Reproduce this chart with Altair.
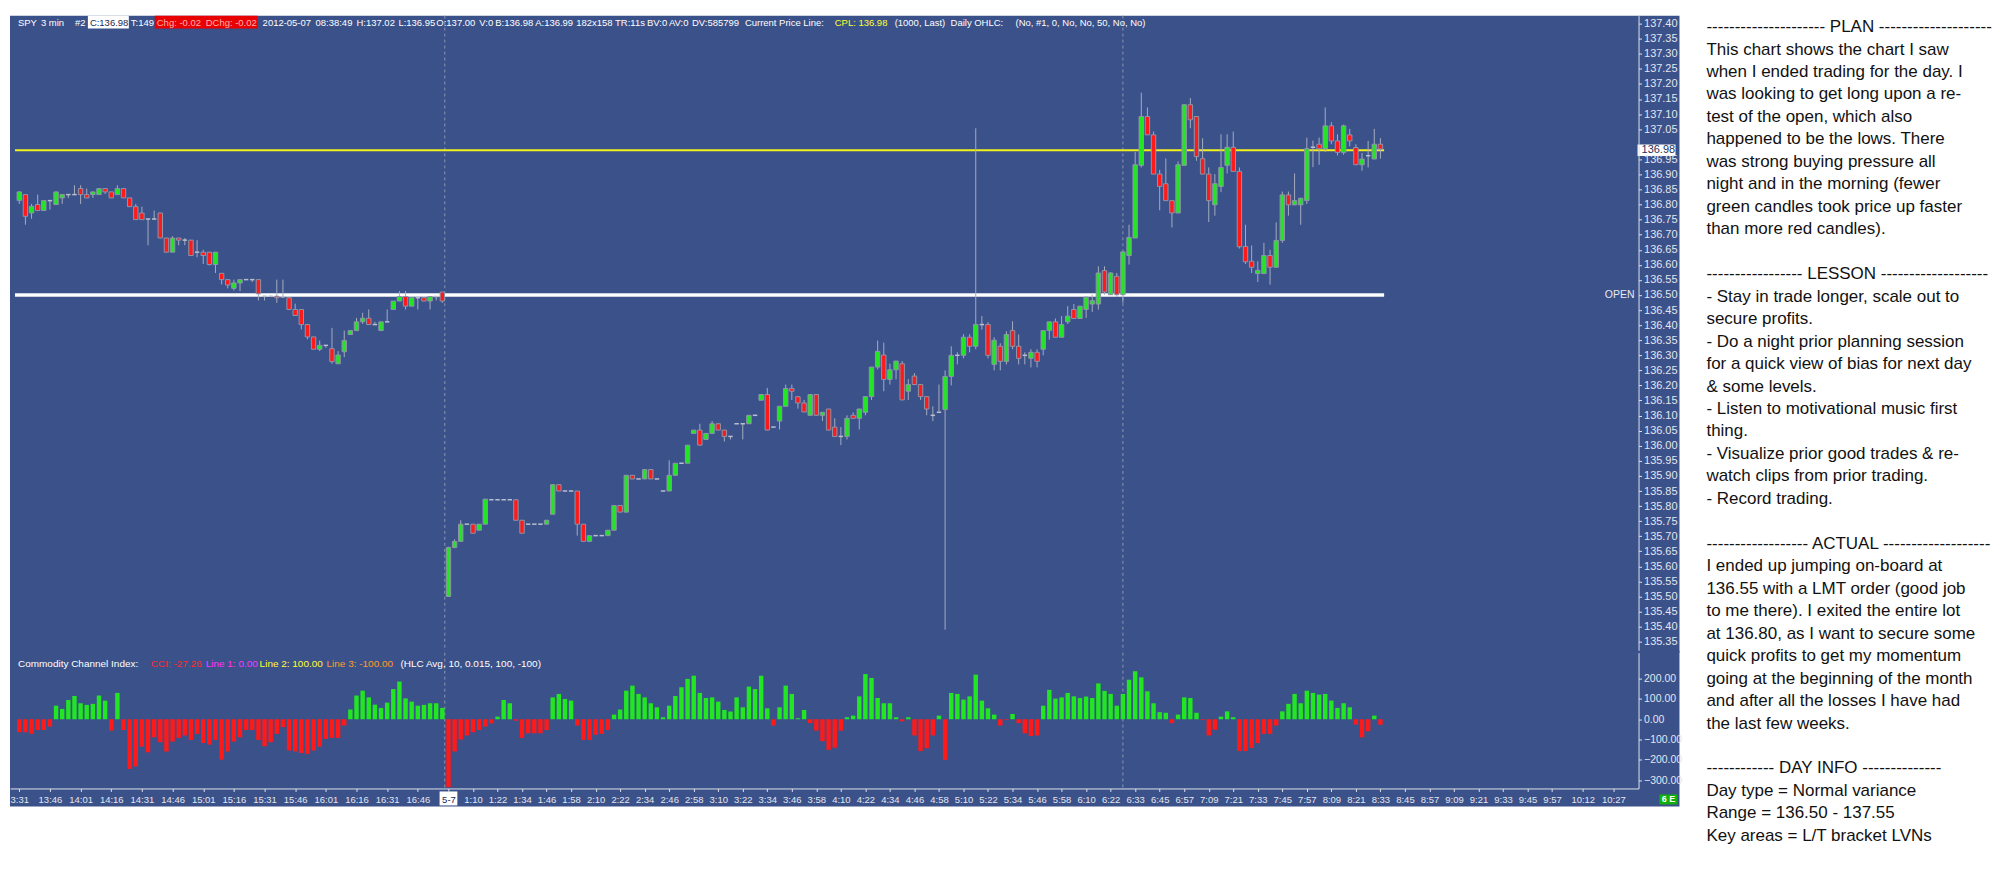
import altair as alt
import pandas as pd

# ---------------- data ----------------
OPEN = [
136.813,136.833,136.772,136.800,136.780,136.813,136.800,136.822,136.833,136.833,
136.853,136.833,136.833,136.833,136.853,136.842,136.833,136.853,136.822,136.793,
136.772,136.752,136.752,136.772,136.689,136.642,136.689,136.682,136.682,136.642,
136.642,136.642,136.601,136.572,136.551,136.522,136.540,136.551,136.551,136.551,
136.496,136.496,136.496,136.494,136.491,136.452,136.452,136.402,136.361,136.320,
136.333,136.322,136.272,136.312,136.369,136.382,136.411,136.423,136.402,136.382,
136.411,136.452,136.480,136.495,136.463,136.491,136.491,136.480,136.495,136.510,
135.500,135.663,135.683,135.740,135.740,135.720,135.740,135.821,135.821,135.821,
135.821,135.821,135.753,135.740,135.740,135.740,135.740,135.773,135.871,135.850,
135.850,135.850,135.740,135.683,135.702,135.702,135.702,135.720,135.802,135.780,
135.902,135.890,135.890,135.921,135.890,135.850,135.850,135.902,135.942,135.942,
136.041,136.052,136.021,136.041,136.073,136.052,136.031,136.073,136.073,136.073,
136.101,136.151,136.170,136.062,136.082,136.131,136.190,136.163,136.142,136.101,
136.170,136.101,136.122,136.062,136.031,136.031,136.101,136.091,136.111,136.163,
136.261,136.301,136.220,136.252,136.272,136.181,136.231,136.203,136.163,136.101,
136.111,136.120,136.230,136.300,136.300,136.360,136.330,136.402,136.402,136.270,
136.330,136.280,136.382,136.330,136.300,136.290,136.310,136.320,136.382,136.411,
136.360,136.411,136.452,136.422,136.452,136.470,136.470,136.581,136.501,136.562,
136.501,136.631,136.689,136.930,137.092,137.031,136.901,136.869,136.813,136.772,
136.930,137.131,137.092,136.952,136.901,136.799,136.860,136.930,136.990,136.910,
136.661,136.612,136.571,136.571,136.631,136.592,136.681,136.832,136.799,136.799,
136.813,136.990,137.000,136.985,137.061,137.011,136.973,137.031,136.989,136.932,
136.962,136.951,137.000]

HIGH = [
136.844,136.833,136.802,136.833,136.813,136.813,136.842,136.833,136.833,136.864,
136.864,136.853,136.842,136.853,136.853,136.842,136.864,136.853,136.822,136.802,
136.793,136.752,136.780,136.772,136.689,136.695,136.689,136.689,136.682,136.682,
136.650,136.642,136.642,136.572,136.551,136.551,136.551,136.551,136.551,136.551,
136.496,136.496,136.551,136.551,136.491,136.471,136.452,136.402,136.361,136.349,
136.333,136.391,136.314,136.382,136.382,136.424,136.441,136.452,136.411,136.411,
136.452,136.480,136.513,136.513,136.491,136.491,136.491,136.495,136.495,136.510,
135.665,135.690,135.753,135.740,135.740,135.740,135.823,135.821,135.821,135.821,
135.821,135.821,135.753,135.740,135.740,135.740,135.753,135.871,135.871,135.850,
135.850,135.850,135.740,135.702,135.702,135.702,135.720,135.802,135.802,135.902,
135.902,135.890,135.921,135.921,135.890,135.850,135.952,135.942,135.942,136.002,
136.052,136.073,136.041,136.082,136.073,136.052,136.031,136.073,136.073,136.101,
136.101,136.170,136.192,136.062,136.131,136.203,136.203,136.163,136.152,136.170,
136.170,136.111,136.122,136.091,136.062,136.101,136.111,136.122,136.163,136.261,
136.349,136.342,136.272,136.281,136.281,136.221,136.241,136.203,136.163,136.131,
136.203,136.250,136.330,136.310,136.370,136.370,137.053,136.430,136.410,136.360,
136.340,136.380,136.413,136.369,136.310,136.320,136.320,136.382,136.411,136.422,
136.430,136.463,136.470,136.463,136.493,136.501,136.595,136.595,136.576,136.573,
136.643,136.733,136.974,137.171,137.122,137.042,136.915,136.953,136.813,136.943,
137.131,137.153,137.092,137.020,136.923,136.901,137.033,137.033,137.042,136.923,
136.733,136.664,136.612,136.673,136.650,136.741,136.843,136.843,136.903,136.821,
137.022,137.012,137.022,137.122,137.073,137.033,137.065,137.051,137.000,136.971,
137.011,137.051,137.020]

LOW = [
136.802,136.733,136.753,136.780,136.780,136.783,136.800,136.802,136.822,136.833,
136.802,136.822,136.822,136.833,136.835,136.822,136.833,136.822,136.793,136.750,
136.750,136.665,136.750,136.689,136.642,136.642,136.665,136.665,136.631,136.625,
136.603,136.598,136.573,136.535,136.522,136.515,136.513,136.551,136.543,136.482,
136.482,136.496,136.474,136.491,136.452,136.432,136.386,136.353,136.320,136.314,
136.325,136.272,136.272,136.294,136.369,136.382,136.404,136.402,136.402,136.382,
136.411,136.452,136.480,136.452,136.463,136.452,136.480,136.452,136.482,136.474,
135.500,135.660,135.683,135.740,135.710,135.720,135.740,135.821,135.821,135.821,
135.821,135.753,135.710,135.740,135.740,135.740,135.740,135.773,135.850,135.850,
135.850,135.702,135.683,135.683,135.702,135.702,135.702,135.720,135.780,135.780,
135.890,135.890,135.890,135.890,135.890,135.850,135.850,135.902,135.942,135.942,
136.041,136.002,136.021,136.041,136.052,136.014,136.021,136.073,136.021,136.073,
136.101,136.151,136.052,136.062,136.054,136.131,136.152,136.123,136.112,136.101,
136.101,136.082,136.052,136.031,136.002,136.021,136.091,136.054,136.101,136.152,
136.253,136.181,136.203,136.220,136.152,136.152,136.203,136.152,136.101,136.082,
136.111,135.390,136.200,136.270,136.290,136.310,136.320,136.385,136.290,136.250,
136.250,136.270,136.320,136.270,136.270,136.260,136.260,136.300,136.352,136.360,
136.360,136.404,136.422,136.422,136.424,136.444,136.452,136.501,136.501,136.493,
136.474,136.601,136.689,136.923,137.031,136.901,136.781,136.813,136.724,136.772,
136.930,137.053,136.945,136.901,136.742,136.763,136.841,136.903,136.910,136.654,
136.603,136.573,136.543,136.571,136.534,136.592,136.673,136.763,136.799,136.733,
136.802,136.924,136.932,136.974,137.000,136.963,136.965,136.993,136.932,136.912,
136.923,136.951,136.952]

CLOSE = [
136.842,136.761,136.794,136.780,136.813,136.813,136.842,136.833,136.833,136.833,
136.833,136.822,136.842,136.853,136.842,136.822,136.853,136.822,136.793,136.750,
136.750,136.752,136.752,136.689,136.642,136.689,136.682,136.682,136.631,136.642,
136.631,136.601,136.642,136.551,136.533,136.540,136.551,136.551,136.551,136.504,
136.496,136.496,136.491,136.494,136.452,136.432,136.402,136.361,136.320,136.333,
136.333,136.279,136.301,136.349,136.382,136.411,136.423,136.402,136.402,136.411,
136.411,136.480,136.495,136.463,136.491,136.491,136.480,136.495,136.495,136.480,
135.663,135.683,135.740,135.740,135.710,135.740,135.823,135.821,135.821,135.821,
135.821,135.753,135.710,135.740,135.740,135.740,135.753,135.871,135.850,135.850,
135.850,135.740,135.683,135.702,135.702,135.702,135.720,135.802,135.780,135.902,
135.890,135.890,135.921,135.890,135.890,135.850,135.902,135.942,135.942,136.002,
136.052,136.002,136.041,136.073,136.052,136.031,136.031,136.073,136.073,136.101,
136.101,136.170,136.052,136.062,136.131,136.190,136.181,136.142,136.112,136.170,
136.101,136.111,136.052,136.031,136.031,136.091,136.091,136.122,136.163,136.261,
136.313,136.220,136.252,136.281,136.152,136.203,136.203,136.163,136.122,136.101,
136.111,136.230,136.300,136.300,136.360,136.330,136.402,136.402,136.300,136.350,
136.280,136.369,136.330,136.290,136.300,136.310,136.280,136.382,136.411,136.360,
136.402,136.430,136.422,136.463,136.493,136.481,136.573,136.510,136.573,136.501,
136.643,136.691,136.932,137.092,137.031,136.901,136.860,136.813,136.772,136.932,
137.131,137.081,136.959,136.901,136.813,136.869,136.923,136.990,136.910,136.660,
136.610,136.592,136.582,136.631,136.592,136.681,136.832,136.799,136.813,136.821,
136.985,136.990,136.985,137.061,137.011,136.973,137.061,137.011,136.932,136.951,
136.962,137.000,136.984]

CCI = [
-64,-64,-72,-53,-53,-36,67,51,95,115,
79,71,76,117,92,-56,130,-53,-245,-233,
-135,-163,-89,-113,-159,-110,-92,-80,-102,-72,
-117,-125,-102,-199,-159,-110,-89,-53,-53,-102,
-133,-113,-72,-39,-154,-159,-167,-171,-154,-135,
-97,-92,-92,-31,48,117,141,108,72,56,
82,149,186,103,87,67,71,79,79,56,
-335,-159,-100,-80,-64,-53,-36,-20,13,95,
79,-7,-92,-69,-69,-69,-53,108,125,100,
92,-31,-102,-102,-76,-72,-53,23,48,141,
166,125,108,79,59,10,67,115,158,199,
215,130,105,108,87,46,38,108,59,161,
149,215,54,-31,59,166,125,5,46,-19,
-56,-108,-151,-140,-56,10,18,113,223,204,
105,79,79,10,-10,10,-80,-157,-143,-80,
18,-200,130,125,97,113,220,92,54,23,
-31,-3,26,-19,-69,-82,-80,67,145,102,
108,130,113,105,112,105,177,140,125,67,
125,195,237,207,138,79,35,32,-19,23,
108,105,32,-3,-80,-52,13,39,10,-157,
-157,-141,-118,-72,-72,-31,39,76,125,79,
141,130,122,125,92,56,79,59,-26,-89,
-59,18,-27.26]

TICK_IDX = [0,5,10,15,20,25,30,35,40,45,50,55,60,65,
            70,
            74,78,82,86,90,94,98,102,106,110,114,118,122,126,130,134,138,142,146,150,154,158,162,166,170,174,178,
            182,186,190,194,198,202,206,210,214,218,222,226,230,234,238,242,246,250,
            255,260]
TICK_LABELS = ["3:31","13:46","14:01","14:16","14:31","14:46","15:01","15:16","15:31","15:46","16:01","16:16","16:31","16:46",
               "5-7",
               "1:10","1:22","1:34","1:46","1:58","2:10","2:22","2:34","2:46","2:58","3:10","3:22","3:34","3:46","3:58",
               "4:10","4:22","4:34","4:46","4:58","5:10","5:22","5:34","5:46","5:58","6:10","6:22",
               "6:33","6:45","6:57","7:09","7:21","7:33","7:45","7:57","8:09","8:21","8:33","8:45","8:57","9:09","9:21","9:33","9:45","9:57",
               "10:12","10:27"]
PRICE_TICKS = [137.40,137.35,137.30,137.25,137.20,137.15,137.10,137.05,136.95,136.90,136.85,136.80,
               136.75,136.70,136.65,136.60,136.55,136.50,136.45,136.40,136.35,136.30,136.25,136.20,136.15,
               136.10,136.05,136.00,135.95,135.90,135.85,135.80,135.75,135.70,135.65,135.60,135.55,135.50,
               135.45,135.40,135.35]
CCI_TICKS = [200, 100, 0, -100, -200, -300]
SESSION_BREAKS = [69.4, 180]
SESSION_START = 70
CPL_PRICE = 136.98
OPEN_PRICE = 136.50

HEADER = ["SPY", "3 min", "#2", "C:136.98", "T:149", "Chg: -0.02", "DChg: -0.02", "2012-05-07", "08:38:49",
          "H:137.02", "L:136.95", "O:137.00", "V:0", "B:136.98", "A:136.99", "182x158", "TR:11s", "BV:0",
          "AV:0", "DV:585799", "Current Price Line:", "CPL: 136.98", "(1000, Last)", "Daily OHLC:",
          "(No, #1, 0, No, No, 50, No, No)"]
CCI_LEGEND = ["Commodity Channel Index:", "CCI: -27.26", "Line 1: 0.00", "Line 2: 100.00", "Line 3: -100.00",
              "(HLC Avg, 10, 0.015, 100, -100)"]

NOTES = [
"--------------------- PLAN --------------------",
"This chart shows the chart I saw",
"when I ended trading for the day. I",
"was looking to get long upon a re-",
"test of the open, which also",
"happened to be the lows. There",
"was strong buying pressure all",
"night and in the morning (fewer",
"green candles took price up faster",
"than more red candles).",
"",
"----------------- LESSON -------------------",
"- Stay in trade longer, scale out to",
"secure profits.",
"- Do a night prior planning session",
"for a quick view of bias for next day",
"& some levels.",
"- Listen to motivational music first",
"thing.",
"- Visualize prior good trades & re-",
"watch clips from prior trading.",
"- Record trading.",
"",
"------------------ ACTUAL -------------------",
"I ended up jumping on-board at",
"136.55 with a LMT order (good job",
"to me there). I exited the entire lot",
"at 136.80, as I want to secure some",
"quick profits to get my momentum",
"going at the beginning of the month",
"and after all the losses I have had",
"the last few weeks.",
"",
"------------ DAY INFO --------------",
"Day type = Normal variance",
"Range = 136.50 - 137.55",
"Key areas = L/T bracket LVNs",
]

# ---------------- layout / style ----------------
BLUE = "#3b518a"
GREEN = "#22e622"
RED = "#ff1a1a"
AXIS_TXT = "#e3e6ef"
AXIS_LINE = "#dde1ea"
FONT = "Liberation Sans"

W = 1631
H_P = 638
H_C = 136
X_DOMAIN = [-1.515, 264.1]
P_DOMAIN = [135.3139, 137.4265]
C_DOMAIN = [-341.4, 328.6]

HEADER_X = [8, 31, 65, 80, 121, 147, 196, 253, 306, 347, 389, 427, 470, 486, 526, 567, 606, 638, 660, 683,
            736, 826, 886, 942, 1007]
HEADER_COL = ["#ffffff"] * 3 + ["#1c2550", "#ffffff", "#ffb0b0", "#ffb0b0"] + ["#ffffff"] * 14 + ["#ffff33"] + ["#ffffff"] * 3
HEADER_BOX = [(78, 119, "#ffffff"), (145, 194, "#e80000"), (194, 248, "#e80000")]
LEGEND_X = [8, 141, 196, 250, 317, 391]
LEGEND_COL = ["#ffffff", "#ff2a2a", "#ff33ff", "#ffff33", "#ff9a2a", "#ffffff"]

xs = alt.Scale(domain=X_DOMAIN, nice=False, zero=False)
ps = alt.Scale(domain=P_DOMAIN, nice=False, zero=False)
cs = alt.Scale(domain=C_DOMAIN, nice=False, zero=False)

n = len(OPEN)
bars = pd.DataFrame({"idx": list(range(n)), "o": OPEN, "h": HIGH, "l": LOW, "c": CLOSE, "cci": CCI})
bars["xl"] = bars["idx"] - 0.36
bars["xr"] = bars["idx"] + 0.36
bars["dir"] = ["up" if c >= o else "down" for o, c in zip(bars["o"], bars["c"])]
bars["doji"] = (bars["c"] - bars["o"]).abs() < 0.004
bars["cdir"] = ["up" if v >= 0 else "down" for v in bars["cci"]]
bodies = bars[~bars["doji"]]
dojis = bars[bars["doji"]]

one = pd.DataFrame({"a": [0]})
breaks = pd.DataFrame({"idx": SESSION_BREAKS})
levels = pd.DataFrame({"p": [OPEN_PRICE], "x0": [-0.7], "x1": [n - 0.4]})
cpl = pd.DataFrame({"p": [CPL_PRICE], "x0": [-0.7], "x1": [n - 0.4], "lo": [CPL_PRICE - 0.019],
                    "hi": [CPL_PRICE + 0.019], "t": [f"{CPL_PRICE:.2f}"]})
header = pd.DataFrame({"t": HEADER, "x": HEADER_X, "col": HEADER_COL})
hbox = pd.DataFrame(HEADER_BOX, columns=["x0", "x1", "fill"])
legend = pd.DataFrame({"t": CCI_LEGEND, "x": LEGEND_X, "col": LEGEND_COL})

dir_color = alt.Color("dir:N", scale=alt.Scale(domain=["up", "down"], range=[GREEN, RED]), legend=None)

price_axis = alt.Axis(orient="right", values=PRICE_TICKS, format=".2f", title=None, grid=False, zindex=1,
                      labelColor=AXIS_TXT, labelFont=FONT, labelFontSize=11, labelPadding=2,
                      domainColor=AXIS_LINE, tickColor=AXIS_LINE, tickSize=3, labelOverlap=False,
                      labelFlush=False)
label_expr = ("[" + ",".join(f"'{s}'" for s in TICK_LABELS) + "][indexof(["
              + ",".join(str(v) for v in TICK_IDX) + "], datum.value)]")
time_axis = alt.Axis(orient="bottom", values=TICK_IDX, labelExpr=label_expr, title=None, grid=False,
                     zindex=1, labelFont=FONT, labelFontSize=9.5, labelPadding=3,
                     labelColor={"condition": {"test": f"datum.value == {SESSION_START}", "value": "#1c2550"},
                                 "value": AXIS_TXT},
                     domainColor=AXIS_LINE, tickColor=AXIS_LINE, tickSize=3, labelOverlap=False,
                     labelFlush=False)
cci_axis = alt.Axis(orient="right", values=CCI_TICKS, format=".2f", title=None, grid=False, zindex=1,
                    labelColor=AXIS_TXT, labelFont=FONT, labelFontSize=10.5, labelPadding=2,
                    domainColor=AXIS_LINE, tickColor=AXIS_LINE, tickSize=3, labelOverlap=False,
                    labelFlush=False)

# ---------------- price panel ----------------
bg_p = alt.Chart(one).mark_rect(color=BLUE, clip=False).encode(
    x=alt.value(0), x2=alt.value(W + 41), y=alt.value(0), y2=alt.value(H_P))
rules_p = alt.Chart(breaks).mark_rule(color="#8d96b2", strokeDash=[3, 3], strokeWidth=1).encode(
    x=alt.X("idx:Q", scale=xs, axis=None))
open_outer = alt.Chart(levels).mark_rule(color="#c9cfdd", strokeWidth=4).encode(
    x=alt.X("x0:Q", scale=xs, axis=None), x2="x1", y=alt.Y("p:Q", scale=ps, axis=price_axis))
open_inner = alt.Chart(levels).mark_rule(color="#ffffff", strokeWidth=2).encode(
    x=alt.X("x0:Q", scale=xs, axis=None), x2="x1", y=alt.Y("p:Q", scale=ps, axis=price_axis))
cpl_line = alt.Chart(cpl).mark_rule(color="#f2f21a", strokeWidth=2).encode(
    x=alt.X("x0:Q", scale=xs, axis=None), x2="x1", y=alt.Y("p:Q", scale=ps, axis=price_axis))
wicks = alt.Chart(bars).mark_rule(color="#a6acbf", strokeWidth=1).encode(
    x=alt.X("idx:Q", scale=xs, axis=None), y=alt.Y("l:Q", scale=ps, axis=price_axis), y2="h")
body = alt.Chart(bodies).mark_rect(stroke="#8e95aa", strokeWidth=1).encode(
    x=alt.X("xl:Q", scale=xs, axis=None), x2="xr", y=alt.Y("o:Q", scale=ps, axis=price_axis), y2="c",
    color=dir_color)
doji = alt.Chart(dojis).mark_rule(color="#b9bfce", strokeWidth=1.5).encode(
    x=alt.X("xl:Q", scale=xs, axis=None), x2="xr", y=alt.Y("c:Q", scale=ps, axis=price_axis))
cpl_box = alt.Chart(cpl).mark_rect(color="#ffffff", clip=False).encode(
    x=alt.value(W - 1), x2=alt.value(W + 37), y=alt.Y("lo:Q", scale=ps, axis=price_axis), y2="hi")
cpl_txt = alt.Chart(cpl).mark_text(align="left", baseline="middle", fontSize=11, font=FONT,
                                   color="#26305a", clip=False).encode(
    x=alt.value(W + 3), y=alt.Y("p:Q", scale=ps, axis=price_axis), text="t:N")
open_txt = alt.Chart(levels).mark_text(align="right", baseline="middle", fontSize=10.5, font=FONT,
                                       color="#e6e9f0", text="OPEN").encode(
    x=alt.value(W - 4), y=alt.Y("p:Q", scale=ps, axis=price_axis))
hdr_box = alt.Chart(hbox).mark_rect().encode(
    x=alt.X("x0:Q", scale=None), x2="x1", y=alt.value(0), y2=alt.value(13),
    color=alt.Color("fill:N", scale=None))
hdr_txt = alt.Chart(header).mark_text(align="left", baseline="middle", fontSize=9.5, font=FONT).encode(
    x=alt.X("x:Q", scale=None), y=alt.value(7), text="t:N", color=alt.Color("col:N", scale=None))

price = alt.layer(bg_p, rules_p, open_outer, open_inner, cpl_line, wicks, body, doji,
                  cpl_box, cpl_txt, open_txt, hdr_box, hdr_txt).properties(width=W, height=H_P)

# ---------------- CCI panel ----------------
bg_c = alt.Chart(one).mark_rect(color=BLUE, clip=False).encode(
    x=alt.value(0), x2=alt.value(W + 41), y=alt.value(-2), y2=alt.value(H_C + 18))
rules_c = alt.Chart(breaks).mark_rule(color="#8d96b2", strokeDash=[3, 3], strokeWidth=1).encode(
    x=alt.X("idx:Q", scale=xs, axis=time_axis))
cci_bars = alt.Chart(bars).mark_rect().encode(
    x=alt.X("xl:Q", scale=xs, axis=time_axis), x2="xr",
    y=alt.Y("cci:Q", scale=cs, axis=cci_axis), y2=alt.datum(0),
    color=alt.Color("cdir:N", scale=alt.Scale(domain=["up", "down"], range=["#14e614", "#ff0000"]), legend=None))
sess = pd.DataFrame({"x0": [SESSION_START - 1.45], "x1": [SESSION_START + 1.45]})
sess_box = alt.Chart(sess).mark_rect(color="#ffffff", clip=False).encode(
    x=alt.X("x0:Q", scale=xs, axis=time_axis), x2="x1", y=alt.value(H_C + 3), y2=alt.value(H_C + 17))
leg_txt = alt.Chart(legend).mark_text(align="left", baseline="middle", fontSize=10, font=FONT).encode(
    x=alt.X("x:Q", scale=None), y=alt.value(11), text="t:N", color=alt.Color("col:N", scale=None))
e_box = alt.Chart(one).mark_rect(color="#10b010", clip=False).encode(
    x=alt.value(W + 21), x2=alt.value(W + 39), y=alt.value(H_C + 6), y2=alt.value(H_C + 16))
e_txt = alt.Chart(one).mark_text(align="center", baseline="middle", fontSize=9, font=FONT,
                                 color="#ffffff", fontWeight="bold", text="6 E", clip=False).encode(
    x=alt.value(W + 30), y=alt.value(H_C + 11))

cci = alt.layer(bg_c, rules_c, cci_bars, sess_box, leg_txt, e_box, e_txt).properties(width=W, height=H_C)

# ---------------- notes panel ----------------
notes = pd.DataFrame({"i": list(range(len(NOTES))), "t": NOTES})
panel = alt.Chart(notes).mark_text(align="left", baseline="middle", fontSize=17, font=FONT,
                                   color="#111111").encode(
    x=alt.value(0),
    y=alt.Y("i:Q", scale=alt.Scale(domain=[-0.511, 36.6], reverse=True, nice=False, zero=False), axis=None),
    text="t:N").properties(width=285, height=835)

left = alt.vconcat(price, cci, spacing=0, bounds="flush")
chart = alt.hconcat(left, panel, spacing=24).configure_view(stroke=None).properties(
    padding={"left": 2, "top": 6, "right": 0, "bottom": 0}, background="#ffffff")

chart.save("out.html", embed_options={"renderer": "svg", "actions": False})
